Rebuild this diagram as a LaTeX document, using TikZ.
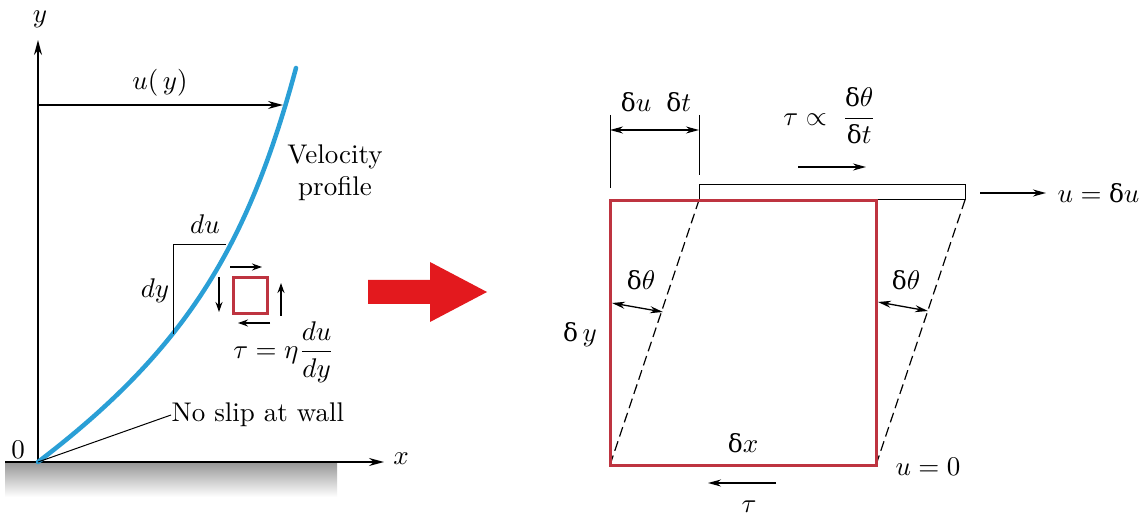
\documentclass[tikz,border=0pt]{standalone}
\usepackage{amsmath}
\usepackage{fontspec}
\newfontfamily\grk[Scale=0.92]{DejaVu Serif}
\newcommand{\dl}{\text{\grk δ}}
\usetikzlibrary{arrows.meta}
\definecolor{profblue}{HTML}{2A9FD6}
\definecolor{elemred}{HTML}{BE3440}
\definecolor{bigred}{HTML}{E3191E}
\begin{document}
\begin{tikzpicture}[x=1pt,y=-1pt,
  lbl/.style={font=\fontsize{10}{12}\selectfont, inner sep=0pt, scale=2.7, transform shape},
  axisline/.style={line width=1.3pt, -{Stealth[length=15pt,width=8pt]}},
  thinarrow/.style={line width=1.3pt, -{Stealth[length=13pt,width=7pt]}},
  dblarrow/.style={line width=1.3pt, {Stealth[length=13pt,width=7pt]}-{Stealth[length=13pt,width=7pt]}},
  elemarrow/.style={line width=2.2pt, -{Stealth[length=10pt,width=7pt]}},
  redbox/.style={draw=elemred, line width=3pt},
  dashline/.style={line width=1.2pt, dash pattern=on 10pt off 5pt},
  thinline/.style={line width=1pt}]
\useasboundingbox (0,0) rectangle (1145,518);
\fill[white] (0,0) rectangle (1145,518);

% ---------------- left panel ----------------
\shade[top color=black!40, bottom color=white] (5,463) rectangle (337,497);
\coordinate (O) at (38,462);
\coordinate (ytip) at (38,40);
\coordinate (xs) at (5,462);
\coordinate (xtip) at (384,462);
\draw[axisline] (O) -- (ytip);
\draw[axisline] (xs) -- (xtip);
\node[lbl] (ylab) at (40,19) {$y$};
\node[lbl] (xlab) at (401,459) {$x$};
\node[lbl] (zero) at (18,450) {0};

% velocity profile
\coordinate (top) at (296,68);
\draw[profblue, line width=4.5pt, line cap=round] (O) .. controls (189,347) and (249,242) .. (top);
\coordinate (uend) at (283,105);
\coordinate (ustart) at (38,105);
\draw[axisline] (ustart) -- (uend);
\node[lbl] (uy) at (160,83) {$u(\,y)$};
\node[lbl] (vel) at (335,157) {Velocity};
\node[lbl] (prof) at (335,189) {profile};

% du dy triangle
\coordinate (ta) at (173,334);
\coordinate (tb) at (173,245);
\coordinate (tc) at (226,245);
\draw[thinline] (ta) -- (tb) -- (tc);
\node[lbl] (du) at (205,224) {$du$};
\node[lbl] (dy) at (155,291) {$dy$};

% small element
\node[redbox, minimum width=34pt, minimum height=36pt, inner sep=0pt] (elem) at (250,296) {};
\coordinate (e1) at (230,267); \coordinate (e2) at (262,267);
\draw[elemarrow] (e1) -- (e2);
\coordinate (e3) at (270,323); \coordinate (e4) at (238,323);
\draw[elemarrow] (e3) -- (e4);
\coordinate (e5) at (219,277); \coordinate (e6) at (219,312);
\draw[elemarrow] (e5) -- (e6);
\coordinate (e7) at (281,316); \coordinate (e8) at (281,283);
\draw[elemarrow] (e7) -- (e8);
\node[lbl] (tau1) at (284,352) {$\displaystyle\tau = \eta\frac{du}{dy}$};

% no slip
\node[lbl, anchor=west] (noslip) at (171,415) {No slip at wall};
\draw[thinline] (O) -- (noslip.west);

% big red arrow
\fill[bigred] (368,280) -- (430,280) -- (430,262) -- (487,292) -- (430,322) -- (430,304) -- (368,304) -- cycle;

% ---------------- right panel ----------------
\coordinate (BL) at (610,465);
\coordinate (BR) at (876,465);
\coordinate (TL) at (610,201);
\coordinate (TR) at (876,201);
\coordinate (PL) at (699,200);
\coordinate (PR) at (965,200);
\draw[dashline] (BL) -- (PL);
\draw[dashline] (BR) -- (PR);
\draw[thinline] (699,185) rectangle (965,200);
\draw[redbox, line join=miter] (TL) -- (TR) -- (BR) -- (BL) -- cycle;

% dimension delta u delta t
\coordinate (d1a) at (610,115); \coordinate (d1b) at (610,188);
\coordinate (d2a) at (699,115); \coordinate (d2b) at (699,175);
\draw[thinline] (d1a) -- (d1b);
\draw[thinline] (d2a) -- (d2b);
\coordinate (d1) at (610,130); \coordinate (d2) at (699,130);
\draw[dblarrow] (d1) -- (d2);
\node[lbl] (dudt) at (656,102) {$\dl u\;\;\dl t$};

% tau proportional
\node[lbl] (taup) at (830,116) {$\displaystyle\tau \propto\;\frac{\dl\theta}{\dl t}$};
\coordinate (s1) at (798,167); \coordinate (s2) at (866,167);
\draw[thinarrow] (s1) -- (s2);

% u = delta u
\coordinate (v1) at (980,193); \coordinate (v2) at (1046,193);
\draw[thinarrow, line width=2pt] (v1) -- (v2);
\node[lbl, anchor=west] (udu) at (1057,193) {$u = \dl u$};

% delta theta
\coordinate (a1) at (612,303); \coordinate (a2) at (663,312);
\draw[dblarrow] (a1) -- (a2);
\node[lbl] (dth1) at (641,280) {$\dl\theta$};
\coordinate (a3) at (878,302); \coordinate (a4) at (928,311);
\draw[dblarrow] (a3) -- (a4);
\node[lbl] (dth2) at (906,280) {$\dl\theta$};

\node[lbl] (dyy) at (580,335) {$\dl\,y$};
\node[lbl] (dx) at (743,443) {$\dl x$};
\node[lbl] (u0) at (928,467) {$u = 0$};

\coordinate (b1) at (776,483); \coordinate (b2) at (708,483);
\draw[thinarrow] (b1) -- (b2);
\node[lbl] (tau2) at (749,507) {$\tau$};
\end{tikzpicture}
\end{document}
